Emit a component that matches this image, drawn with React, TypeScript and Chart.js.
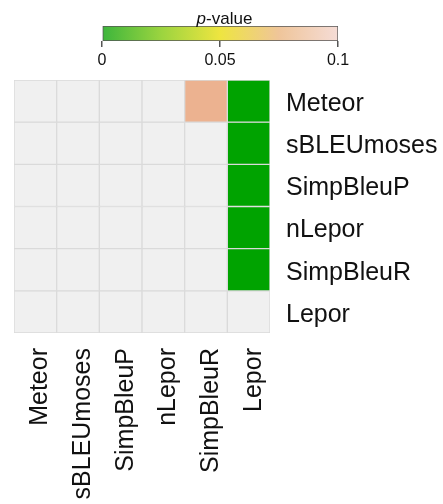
import React, { useEffect, useRef } from "react";
import { Chart, registerables } from "chart.js";

Chart.register(...registerables);

// ---- data ----
const rowLabels = ["Meteor", "sBLEUmoses", "SimpBleuP", "nLepor", "SimpBleuR", "Lepor"];
const colLabels = ["Meteor", "sBLEUmoses", "SimpBleuP", "nLepor", "SimpBleuR", "Lepor"];
// p-values (null = not significant / not shown)
const pMeteor = [null, null, null, null, 0.075, 0.0];
const pSBLEUmoses = [null, null, null, null, null, 0.0];
const pSimpBleuP = [null, null, null, null, null, 0.0];
const pNLepor = [null, null, null, null, null, 0.0];
const pSimpBleuR = [null, null, null, null, null, 0.0];
const pLepor = [null, null, null, null, null, null];
const pValues = [pMeteor, pSBLEUmoses, pSimpBleuP, pNLepor, pSimpBleuR, pLepor];

const colorbarTicks = [0, 0.05, 0.1];
const colorbarTickLabels = ["0", "0.05", "0.1"];

// ---- styles ----
const FONT = "'Liberation Sans', Arial, Helvetica, sans-serif";
const GREY = "#f0f0f0";
const barStops: [number, string][] = [
  [0, "#3cb53c"],
  [0.025, "#9bd43f"],
  [0.05, "#eee540"],
  [0.075, "#efc59a"],
  [0.1, "#f5dcd6"],
];
const cellStops: [number, string][] = [
  [0, "#00a300"],
  [0.05, "#eee540"],
  [0.075, "#ecb290"],
  [0.1, "#f5dcd6"],
];

function hexToRgb(h: string) {
  const n = parseInt(h.slice(1), 16);
  return [(n >> 16) & 255, (n >> 8) & 255, n & 255];
}
function interp(stops: [number, string][], v: number) {
  if (v <= stops[0][0]) return stops[0][1];
  for (let i = 1; i < stops.length; i++) {
    if (v <= stops[i][0]) {
      const [a, ca] = stops[i - 1];
      const [b, cb] = stops[i];
      const t = (v - a) / (b - a);
      const A = hexToRgb(ca), B = hexToRgb(cb);
      const c = A.map((x, k) => Math.round(x + (B[k] - x) * t));
      return `rgb(${c[0]},${c[1]},${c[2]})`;
    }
  }
  return stops[stops.length - 1][1];
}
const cellColor = (p: number | null) => (p === null ? GREY : interp(cellStops, p));

export default function App() {
  const mainRef = useRef<HTMLCanvasElement>(null);
  const barRef = useRef<HTMLCanvasElement>(null);

  useEffect(() => {
    const main = new Chart(mainRef.current!, {
      type: "bar",
      data: {
        labels: colLabels,
        datasets: rowLabels.map((r, i) => ({
          label: r,
          data: colLabels.map(() => [i - 0.5, i + 0.5]),
          backgroundColor: pValues[i].map(cellColor),
          borderColor: "#dadada",
          borderWidth: 1,
          borderSkipped: false,
          grouped: false,
          barPercentage: 1,
          categoryPercentage: 1,
        })) as any,
      },
      options: {
        responsive: false,
        animation: false,
        layout: { padding: { left: 14, top: 80, right: 0, bottom: 0 } },
        plugins: { legend: { display: false }, tooltip: { enabled: false } },
        scales: {
          x: {
            type: "category",
            grid: { display: false },
            border: { display: false },
            ticks: {
              autoSkip: false,
              minRotation: 90,
              maxRotation: 90,
              padding: 7,
              labelOffset: 5,
              color: "#111",
              font: { family: FONT, size: 25 },
            },
            afterFit: (s: any) => {
              s.height = 171;
            },
          },
          y: {
            type: "linear",
            position: "right",
            min: -0.5,
            max: 5.5,
            reverse: true,
            grid: { display: false },
            border: { display: false },
            afterBuildTicks: (s: any) => {
              s.ticks = rowLabels.map((_, i) => ({ value: i }));
            },
            ticks: {
              padding: 8,
              labelOffset: 3,
              color: "#111",
              font: { family: FONT, size: 25 },
              callback: (v: any) => rowLabels[v as number] ?? "",
            },
            afterFit: (s: any) => {
              s.width = 173;
            },
          },
        },
      },
    });

    const bar = new Chart(barRef.current!, {
      type: "bar",
      data: {
        labels: ["p"],
        datasets: [
          {
            data: [[colorbarTicks[0], colorbarTicks[colorbarTicks.length - 1]]] as any,
            backgroundColor: (ctx: any) => {
              const chart = ctx.chart;
              const xs = chart.scales.x;
              if (!chart.chartArea || !xs) return barStops[0][1];
              const x0 = xs.getPixelForValue(barStops[0][0]);
              const x1 = xs.getPixelForValue(barStops[barStops.length - 1][0]);
              const g = chart.ctx.createLinearGradient(x0, 0, x1, 0);
              barStops.forEach(([v, c]) => g.addColorStop((v - barStops[0][0]) / (barStops[barStops.length - 1][0] - barStops[0][0]), c));
              return g;
            },
            borderColor: "#555",
            borderWidth: 1,
            borderSkipped: false,
            barPercentage: 1,
            categoryPercentage: 1,
          },
        ],
      },
      options: {
        indexAxis: "y",
        responsive: false,
        animation: false,
        layout: { padding: { left: 102, right: 105, top: 26, bottom: 0 } },
        plugins: { legend: { display: false }, tooltip: { enabled: false } },
        scales: {
          x: {
            type: "linear",
            min: 0,
            max: 0.1,
            grid: { drawOnChartArea: false, drawTicks: true, tickLength: 6, color: "#555", lineWidth: 1.5 },
            border: { display: false },
            afterBuildTicks: (s: any) => {
              s.ticks = colorbarTicks.map((v) => ({ value: v }));
            },
            ticks: {
              padding: 4,
              color: "#111",
              font: { family: FONT, size: 16 },
              callback: (v: any) => {
                const i = colorbarTicks.indexOf(v as number);
                return i >= 0 ? colorbarTickLabels[i] : "";
              },
            },
            afterFit: (s: any) => {
              s.height = 34;
            },
          },
          y: { display: false },
        },
      },
    });

    return () => {
      main.destroy();
      bar.destroy();
    };
  }, []);

  return (
    <div style={{ position: "fixed", left: 0, top: 0, width: 443, height: 504, background: "#fff", overflow: "hidden" }}>
      <canvas ref={mainRef} width={443} height={504} style={{ position: "absolute", left: 0, top: 0 }} />
      <canvas ref={barRef} width={443} height={75} style={{ position: "absolute", left: 0, top: 0 }} />
      <div
        style={{
          position: "absolute",
          left: 0,
          top: 10,
          width: 443,
          textAlign: "center",
          fontFamily: FONT,
          fontSize: 17,
          lineHeight: "17px",
          color: "#111",
          paddingLeft: 3,
        }}
      >
        <i>p</i>-value
      </div>
    </div>
  );
}
